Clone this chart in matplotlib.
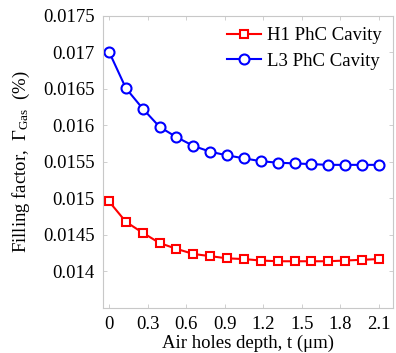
import matplotlib
matplotlib.use("Agg")
import matplotlib.pyplot as plt

# air hole depth (um)
depth = [0.0, 0.13125, 0.2625, 0.39375, 0.525, 0.65625, 0.7875, 0.91875, 1.05,
         1.18125, 1.3125, 1.44375, 1.575, 1.70625, 1.8375, 1.96875, 2.1]

h1_fill = [0.01496, 0.01468, 0.01453, 0.01439, 0.01431, 0.01424, 0.01421, 0.01418,
           0.01417, 0.01415, 0.01414, 0.01414, 0.01414, 0.01414, 0.01415, 0.01416, 0.01417]

l3_fill = [0.01701, 0.01651, 0.01623, 0.01598, 0.01584, 0.01572, 0.01564, 0.01559,
           0.01555, 0.01551, 0.01549, 0.01548, 0.01547, 0.01546, 0.01546, 0.01546, 0.01546]

xticks = [0, 0.3, 0.6, 0.9, 1.2, 1.5, 1.8, 2.1]
xtick_labels = ["0", "0.3", "0.6", "0.9", "1.2", "1.5", "1.8", "2.1"]
yticks = [0.014, 0.0145, 0.015, 0.0155, 0.016, 0.0165, 0.017, 0.0175]
ytick_labels = ["0.014", "0.0145", "0.015", "0.0155", "0.016", "0.0165", "0.017", "0.0175"]

plt.rcParams["font.family"] = ["Liberation Serif", "DejaVu Serif"]
plt.rcParams["mathtext.fontset"] = "custom"
plt.rcParams["mathtext.rm"] = "Liberation Serif"
plt.rcParams["mathtext.it"] = "Liberation Serif:italic"

fig = plt.figure(figsize=(3.96, 3.53), dpi=100)
ax = fig.add_axes([0.260, 0.1275, 0.732, 0.8275])

ax.plot(depth, h1_fill, color="#ff0000", lw=1.5, marker="s", ms=5.8,
        mfc="white", mec="#ff0000", mew=1.5, label="H1 PhC Cavity")
ax.plot(depth, l3_fill, color="#0000ff", lw=1.5, marker="o", ms=7.2,
        mfc="white", mec="#0000ff", mew=1.5, label="L3 PhC Cavity")

ax.set_xlim(-0.047, 2.209)
ax.set_ylim(0.0135, 0.0175)
ax.set_xticks(xticks)
ax.set_xticklabels(xtick_labels)
ax.set_yticks(yticks)
ax.set_yticklabels(ytick_labels)
ax.tick_params(direction="in", length=3, width=0.6, color="#c8c8c8",
               top=True, right=True, labelsize=13.5, pad=6)
for sp in ax.spines.values():
    sp.set_color("#c8c8c8")
    sp.set_linewidth(0.8)

ax.set_xlabel("Air holes depth, t (\u03bcm)", fontsize=13.5, labelpad=1)
ax.set_ylabel(r"Filling factor,  $\mathrm{\Gamma_{Gas}}$  (%)", fontsize=13.5, labelpad=8)

ax.legend(loc="upper right", frameon=False, fontsize=13.5, handlelength=1.8,
          handletextpad=0.3, borderaxespad=0.2, labelspacing=0.45)

fig.savefig("out.png", dpi=100)
